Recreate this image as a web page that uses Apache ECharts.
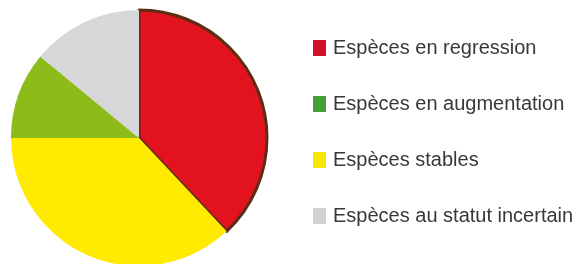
<!DOCTYPE html>
<html>
<head>
<meta charset="utf-8">
<script src="https://cdn.jsdelivr.net/npm/echarts@6/dist/echarts.min.js"></script>
<style>
  html,body{margin:0;padding:0;background:#fff;}
  #main{width:584px;height:264px;}
</style>
</head>
<body>
<div id="main"></div>
<script>
// données (sens horaire à partir de midi)
var categories = ["Espèces en regression","Espèces stables","Espèces en augmentation","Espèces au statut incertain"];
var values = [38, 37, 11, 14];
var pieColors = ["#e2131f","#ffea00","#8dbb1a","#d7d7d9"];
// ordre de la légende
var legendOrder = ["Espèces en regression","Espèces en augmentation","Espèces stables","Espèces au statut incertain"];
var legendColors = ["#d3102a","#43a037","#f7e600","#d2d2d2"];

var myChart = echarts.init(document.getElementById('main'));

var pieData = [];
for (var i = 0; i < categories.length; i++) {
  var d = {name: categories[i], value: values[i], itemStyle: {color: pieColors[i]}};
  if (i === 0) {
    d.itemStyle.borderColor = "#5b2e14";
    d.itemStyle.borderWidth = 3;
  }
  pieData.push(d);
}
var legendData = legendOrder.map(function(n, i){
  return {name: n, itemStyle: {color: legendColors[i], borderWidth: 0}};
});

var option = {
  animation: false,
  legend: {
    orient: 'vertical',
    left: 308,
    top: 32,
    icon: 'rect',
    itemWidth: 13,
    itemHeight: 16,
    itemGap: 34,
    data: legendData,
    textStyle: {
      fontFamily: 'Liberation Sans, sans-serif',
      fontSize: 20,
      lineHeight: 22,
      color: '#38383a',
      padding: [0, 0, 0, 2]
    }
  },
  series: [
    {
      type: 'pie',
      center: [139, 138],
      radius: 128,
      startAngle: 90,
      clockwise: true,
      label: {show: false},
      labelLine: {show: false},
      emphasis: {disabled: true},
      data: pieData
    }
  ]
};
myChart.setOption(option);
</script>
</body>
</html>
